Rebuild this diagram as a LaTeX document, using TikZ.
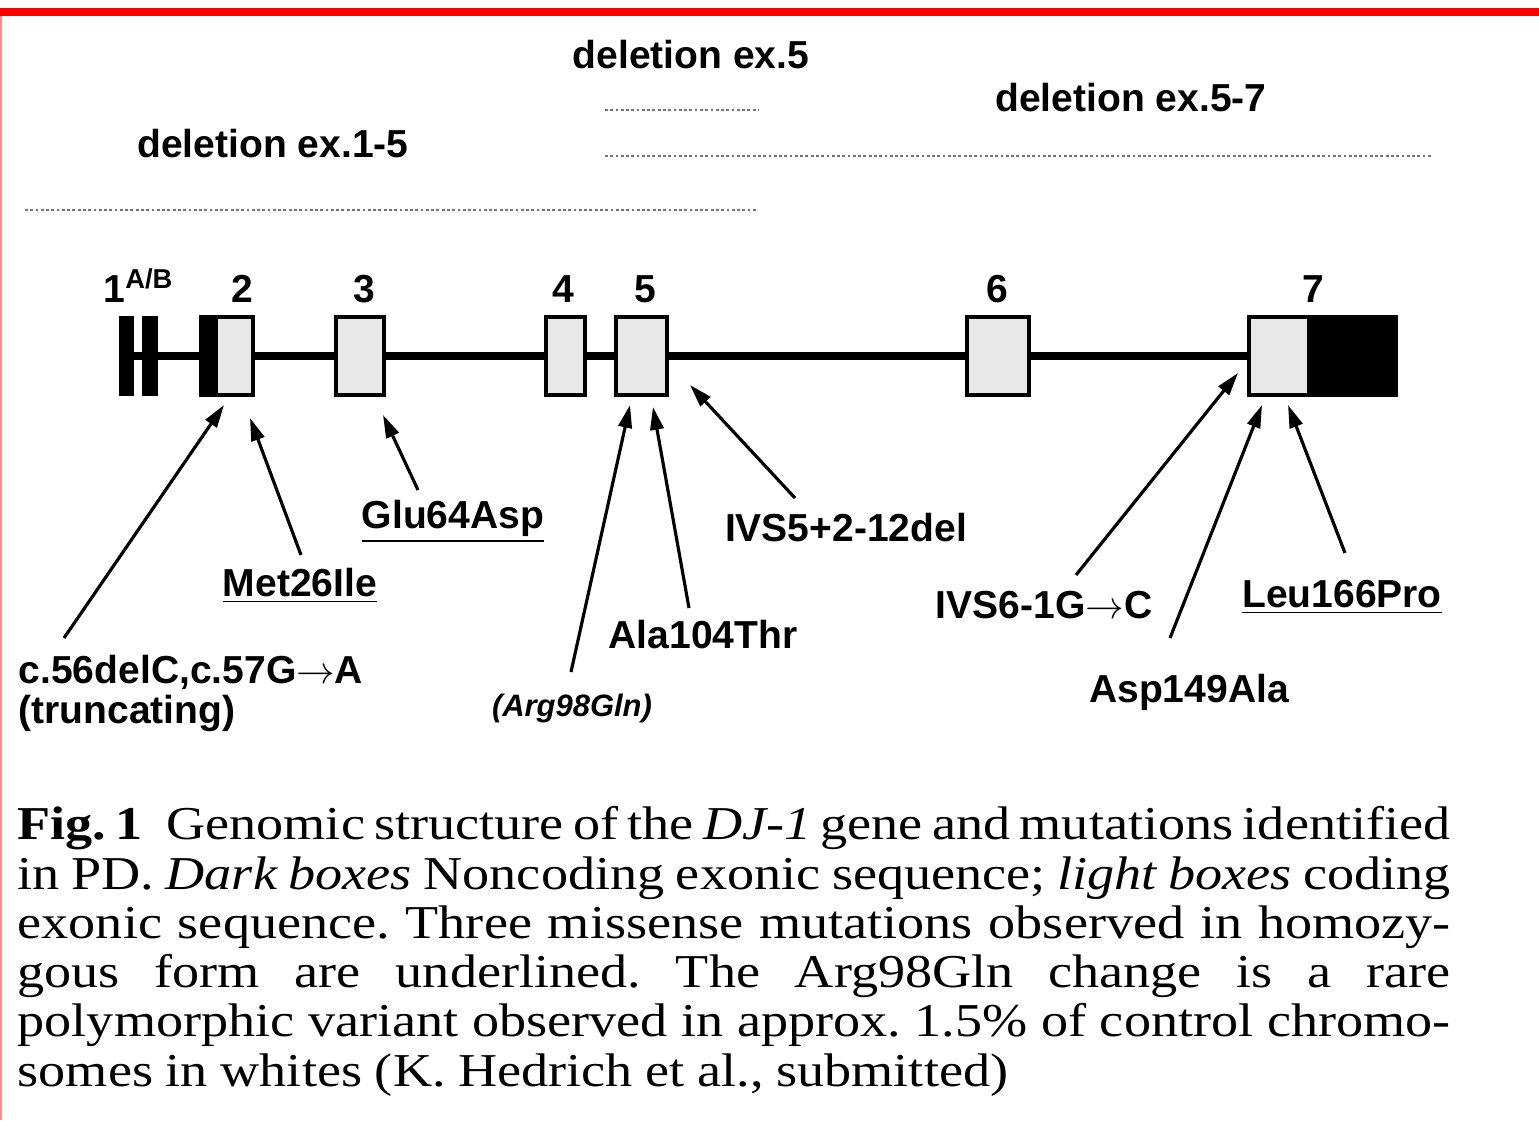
\documentclass[tikz,border=0pt]{standalone}
\usepackage{fontspec}
\setmainfont{Liberation Serif}
\setsansfont{Liberation Sans}
\newfontfamily\capfont[FakeStretch=1.15]{Liberation Serif}
\usetikzlibrary{arrows.meta,calc,positioning,backgrounds}

\newcommand{\lblfont}{\sffamily\bfseries\fontsize{11.1}{11.4}\selectfont}

\tikzset{
  exon/.style={draw, line width=1.1pt, fill=black!9, inner sep=0pt, minimum height=0.78cm},
  utr/.style={fill=black, inner sep=0pt, minimum height=0.80cm},
  intron/.style={line width=2.3pt},
  mut/.style={line width=0.9pt, -{Triangle[length=6.5pt,width=3.8pt]}},
  lbl/.style={font=\lblfont, inner sep=0pt, anchor=base},
  delline/.style={line width=0.8pt, black!55, dash pattern=on 0.8pt off 0.7pt}
}

\begin{document}
\begin{tikzpicture}[x=0.01cm,y=-0.01cm]
\useasboundingbox (0,0) rectangle (1539,1120);
\fill[red] (0,8) rectangle (1539,16);
\draw[red!45, line width=0.6pt] (1,16) -- (1,1120);

\node[lbl] (d5) at (691,68) {deletion ex.5};
\node[lbl] (d57) at (1131,111) {deletion ex.5-7};
\node[lbl] (d15) at (273,157) {deletion ex.1-5};
\draw[delline] (605,110) -- (758,110);
\draw[delline] (605,156) -- (1432,156);
\draw[delline] (25,210) -- (758,210);

\node[utr, minimum width=0.15cm] (e1a) at (126.5,356) {};
\node[utr, minimum width=0.16cm] (e1b) at (150,356) {};
\node[exon, minimum width=0.52cm, path picture={\fill[black] (path picture bounding box.north west) rectangle ([xshift=0.17cm]path picture bounding box.south west);}] (e2) at (227,356) {};
\node[exon, minimum width=0.48cm] (e3) at (360,356) {};
\node[exon, minimum width=0.39cm] (e4) at (565.5,356) {};
\node[exon, minimum width=0.51cm] (e5) at (641.5,356) {};
\node[exon, minimum width=0.62cm] (e6) at (998,356) {};
\node[exon, minimum width=1.47cm, path picture={\fill[black] ([xshift=-0.89cm]path picture bounding box.north east) rectangle (path picture bounding box.south east);}] (e7) at (1322.5,356) {};
\begin{scope}[on background layer]
\draw[intron] (e1a.center) -- (e7.center);
\end{scope}

\node[lbl, anchor=base west] (n1) at (103,302) {1\textsuperscript{A/B}};
\foreach \n/\x in {2/242,3/364,4/563,5/645,6/997,7/1313}
  \node[lbl] (n\n) at (\x,302) {\n};

\node[lbl, anchor=north west, align=left] (c56) at (18,654) {c.56delC,c.57G$\rightarrow$A\\(truncating)};
\node[lbl] (met) at (300,596) {\underline{Met26Ile}};
\node[lbl] (glu) at (453,528) {\underline{Glu64Asp}};
\node[lbl, font=\sffamily\bfseries\itshape\fontsize{8.8}{9}\selectfont] (arg) at (572,716) {(Arg98Gln)};
\node[lbl] (ala) at (703,648) {Ala104Thr};
\node[lbl] (ivsf) at (846,541) {IVS5+2-12del};
\node[lbl] (ivss) at (1044,618) {IVS6-1G$\rightarrow$C};
\node[lbl] (asp) at (1189,702) {Asp149Ala};
\node[lbl] (leu) at (1342,607) {\underline{Leu166Pro}};

\draw[mut] ($(c56.north west)+(46,-16)$) -- ($(e2.south)+(-3,8)$);
\draw[mut] ($(met.base)+(1,-41)$) -- ($(e2.south)+(23,21)$);
\draw[mut] ($(glu.base)+(-35,-38)$) -- ($(e3.south)+(23,18)$);
\draw[mut] ($(arg.base)+(-1,-44)$) -- ($(e5.south)+(-11.5,8)$);
\draw[mut] ($(ala.base)+(-14,-40)$) -- ($(e5.south)+(11.5,10)$);
\draw[mut] ($(ivsf.base)+(-51,-43)$) -- ($(e5.south east)+(21,-12)$);
\draw[mut] ($(ivss.base)+(32,-43)$) -- ($(e7.south west)+(-9,-24)$);
\draw[mut] ($(asp.base)+(-19,-64)$) -- ($(e7.south west)+(15,8)$);
\draw[mut] ($(leu.base)+(3,-54)$) -- ($(e7.south west)+(41,8)$);

\node[anchor=north west, inner sep=0pt, text width=14.32cm, align=justify, font=\capfont\fontsize{13.4}{14}\selectfont] (cap) at (17,806) {\frenchspacing\hyphenpenalty=10000\spaceskip=0.27em plus 2em minus 0.09em
\textbf{Fig.~1}\enskip Genomic structure of the \textit{DJ-1} gene and mutations identified\linebreak
in PD. \textit{Dark boxes} Noncoding exonic sequence; \textit{light boxes} coding\linebreak
exonic sequence. Three missense mutations observed in homozy-\linebreak
gous form are underlined. The Arg98Gln change is a rare\linebreak
polymorphic variant observed in approx. 1.5\% of control chromo-\linebreak
somes in whites (K. Hedrich et al., submitted)};
\end{tikzpicture}
\end{document}
